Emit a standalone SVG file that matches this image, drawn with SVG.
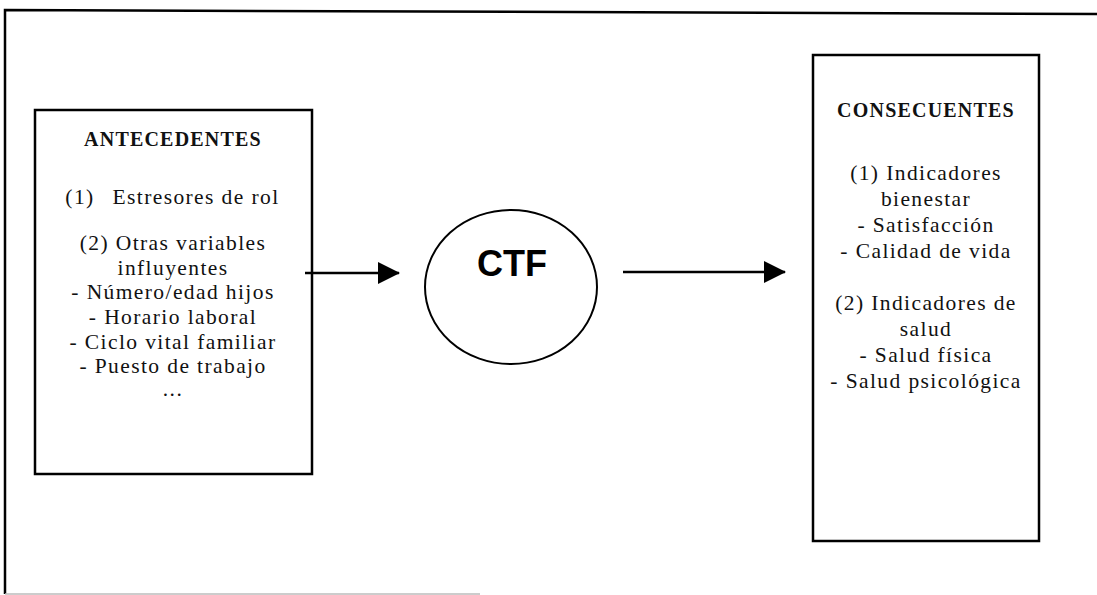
<svg xmlns="http://www.w3.org/2000/svg" width="1097" height="595" viewBox="0 0 1097 595">
<defs>
<style>
.box{fill:#fff;stroke:#000;stroke-width:2.5}
.t{font-family:"Liberation Serif","Times New Roman",serif;font-size:21.5px;letter-spacing:1.4px;fill:#111;text-anchor:middle}
.h{font-weight:bold;font-size:20px;letter-spacing:1.2px}
.ctf{font-family:"Liberation Sans",Arial,sans-serif;font-weight:bold;font-size:36px;fill:#000;text-anchor:middle}
.ln{stroke:#000;stroke-width:2.5;fill:none}
</style>
<marker id="ah" markerWidth="22" markerHeight="22" refX="21" refY="11" orient="auto" markerUnits="userSpaceOnUse" viewBox="0 0 22 22">
<path d="M0,0 L22,11 L0,22 Z" fill="#000"/>
</marker>
</defs>
<rect width="1097" height="595" fill="#fff"/>
<g id="frame">
<path d="M5,594 L5,10 L1097,14" class="ln" stroke-width="2"/>
<line x1="5" y1="594" x2="480" y2="594" stroke="#bbb" stroke-width="1.5"/>
</g>
<g id="antecedentes">
<rect class="box" x="35" y="110" width="277" height="364"/>
<text class="t h" x="173" y="146">ANTECEDENTES</text>
<text class="t" x="173" y="204"><tspan x="80">(1)</tspan><tspan x="196">Estresores de rol</tspan></text>
<text class="t" x="173" y="250">(2) Otras variables</text>
<text class="t" x="173" y="275">influyentes</text>
<text class="t" x="173" y="299">- Número/edad hijos</text>
<text class="t" x="173" y="324">- Horario laboral</text>
<text class="t" x="173" y="349">- Ciclo vital familiar</text>
<text class="t" x="173" y="373">- Puesto de trabajo</text>
<text class="t" x="173" y="396" font-size="14" fill="#555">...</text>
</g>
<g id="ctf">
<ellipse cx="511" cy="287" rx="86" ry="77" fill="#fff" stroke="#000" stroke-width="2"/>
<text class="ctf" x="512" y="276">CTF</text>
</g>
<g id="consecuentes">
<rect class="box" x="813" y="55" width="226" height="486"/>
<text class="t h" x="926" y="117">CONSECUENTES</text>
<text class="t" x="926" y="180">(1) Indicadores</text>
<text class="t" x="926" y="206">bienestar</text>
<text class="t" x="926" y="232">- Satisfacción</text>
<text class="t" x="926" y="258">- Calidad de vida</text>
<text class="t" x="926" y="310">(2) Indicadores de</text>
<text class="t" x="926" y="336">salud</text>
<text class="t" x="926" y="362">- Salud física</text>
<text class="t" x="926" y="388">- Salud psicológica</text>
</g>
<g id="connectors">
<line class="ln" x1="305" y1="273" x2="399" y2="273" marker-end="url(#ah)"/>
<line class="ln" x1="623" y1="272" x2="785" y2="272" marker-end="url(#ah)"/>
</g>
</svg>
